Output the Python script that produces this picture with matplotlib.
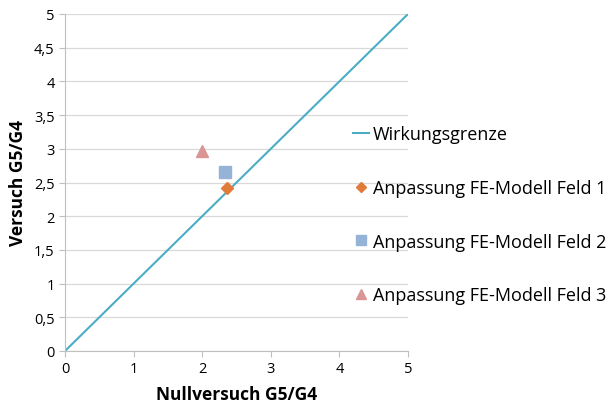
import matplotlib
matplotlib.use("Agg")
import matplotlib.pyplot as plt

plt.rcParams['font.family'] = ['Open Sans', 'DejaVu Sans']

line_x = [0, 5]
line_y = [0, 5]
feld1 = (2.36, 2.42)
feld2 = (2.33, 2.66)
feld3 = (2.00, 2.96)
labels = ["Wirkungsgrenze", "Anpassung FE-Modell Feld 1",
          "Anpassung FE-Modell Feld 2", "Anpassung FE-Modell Feld 3"]
xticks = [0, 1, 2, 3, 4, 5]
yticks = [0, 0.5, 1, 1.5, 2, 2.5, 3, 3.5, 4, 4.5, 5]

fig = plt.figure(figsize=(6.08, 4.10), dpi=100)
ax = fig.add_axes([65/608, 58/410, 343/608, 337/410])

h0, = ax.plot(line_x, line_y, color='#4BACC6', lw=1.5, label=labels[0])
h1, = ax.plot([feld1[0]], [feld1[1]], ls='none', marker='D', ms=6, color='#E07B39', label=labels[1])
h2, = ax.plot([feld2[0]], [feld2[1]], ls='none', marker='s', ms=8, color='#95B3D7', label=labels[2])
h3, = ax.plot([feld3[0]], [feld3[1]], ls='none', marker='^', ms=8, color='#D99694', label=labels[3])

ax.set_xlim(0, 5)
ax.set_ylim(0, 5)
ax.set_xticks(xticks)
ax.set_yticks(yticks)
ax.set_xticklabels([str(v) for v in xticks])
ax.set_yticklabels([("%g" % v).replace('.', ',') for v in yticks])
ax.grid(axis='y', color='#D9D9D9', lw=0.9)
ax.set_axisbelow(True)
for s in ['top', 'right']:
    ax.spines[s].set_visible(False)
for s in ['left', 'bottom']:
    ax.spines[s].set_color('#BFBFBF')
ax.tick_params(axis='both', colors='#BFBFBF', labelcolor='black', labelsize=10.5, length=4)
ax.set_xlabel("Nullversuch G5/G4", fontsize=12.5, fontweight='bold', labelpad=6)
ax.set_ylabel("Versuch G5/G4", fontsize=12.5, fontweight='bold', labelpad=5)

leg = fig.legend(handles=[h0, h1, h2, h3], loc='upper left', bbox_to_anchor=(346/608, 1 - 119/410),
                 frameon=False, fontsize=13, labelspacing=1.98, handlelength=0.9, handletextpad=0.2,
                 borderaxespad=0, markerscale=0.85)

fig.savefig("out.png", dpi=100)
